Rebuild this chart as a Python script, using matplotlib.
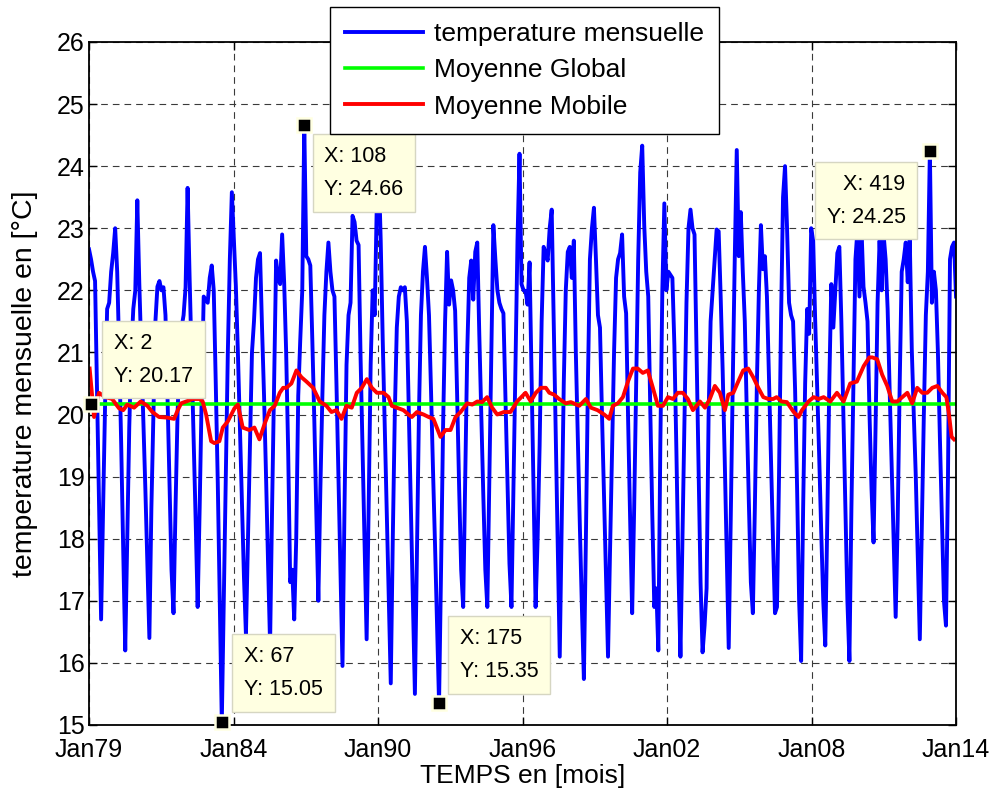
"""
Temperature mensuelle 1979-2014 avec moyenne globale et moyenne mobile
"""

import numpy as np
import matplotlib
matplotlib.use("Agg")
import matplotlib.pyplot as plt

# monthly temperature, one row per year (Jan..Dec), 1979 -> 2014
TEMP_ROWS = [
    [22.66, 22.50, 22.30, 22.15, 20.30, 18.50, 16.70, 18.50, 20.20, 21.70, 21.80, 22.30],
    [22.60, 23.00, 22.30, 21.00, 19.50, 17.80, 16.20, 18.00, 19.80, 21.00, 21.70, 22.00],
    [23.45, 22.10, 21.00, 19.90, 18.80, 17.60, 16.40, 18.50, 20.00, 21.50, 22.06, 22.15],
    [22.00, 22.05, 21.60, 20.30, 18.90, 17.50, 16.80, 18.50, 20.00, 21.00, 21.40, 21.60],
    [22.05, 23.65, 22.20, 20.90, 19.60, 18.30, 16.90, 18.50, 20.30, 21.90, 21.85, 21.80],
    [22.20, 22.40, 22.00, 20.50, 18.90, 17.00, 15.05, 17.00, 19.00, 21.00, 22.50, 23.58],
    [22.80, 22.06, 21.00, 19.80, 18.60, 17.40, 16.45, 18.00, 19.50, 21.00, 21.50, 22.20],
    [22.50, 22.60, 21.40, 20.30, 19.00, 17.60, 16.30, 18.50, 20.50, 22.48, 22.20, 22.10],
    [22.90, 22.13, 21.00, 19.40, 17.30, 17.50, 16.70, 18.00, 20.30, 21.20, 22.00, 24.66],
    [22.55, 22.50, 22.40, 21.20, 19.90, 18.40, 17.00, 18.80, 20.30, 21.60, 22.30, 22.77],
    [22.30, 22.00, 21.90, 20.50, 19.00, 17.50, 15.95, 18.50, 20.80, 21.60, 21.80, 23.20],
    [23.10, 22.80, 22.73, 20.90, 19.40, 17.90, 16.38, 18.50, 20.80, 22.00, 21.60, 23.30],
    [24.00, 22.80, 21.20, 19.80, 18.40, 17.00, 15.67, 18.00, 20.00, 21.40, 21.90, 22.05],
    [22.00, 22.05, 21.50, 20.00, 18.50, 17.00, 15.50, 17.80, 20.00, 21.60, 22.30, 22.70],
    [22.20, 21.60, 20.40, 19.10, 17.90, 16.60, 15.35, 17.50, 19.80, 21.50, 22.62, 21.77],
    [22.16, 22.00, 21.67, 20.30, 18.80, 17.50, 16.90, 19.00, 21.00, 22.20, 22.48, 21.85],
    [22.62, 22.77, 21.30, 20.00, 18.70, 17.50, 16.90, 19.00, 21.00, 23.05, 22.50, 22.00],
    [21.80, 21.70, 21.63, 20.30, 19.00, 17.60, 16.90, 18.80, 20.80, 22.80, 24.20, 22.10],
    [22.00, 21.99, 21.77, 22.45, 20.60, 18.70, 16.90, 18.00, 19.50, 21.50, 22.70, 22.60],
    [22.48, 23.00, 23.30, 21.50, 19.70, 17.90, 16.10, 18.30, 20.50, 22.00, 22.62, 22.70],
    [22.20, 22.80, 21.00, 19.60, 18.20, 16.90, 15.74, 18.00, 20.50, 22.50, 23.00, 23.33],
    [22.50, 21.60, 21.40, 20.00, 18.70, 17.40, 16.10, 17.80, 19.40, 21.00, 22.20, 22.50],
    [22.60, 22.90, 21.90, 21.63, 19.90, 18.30, 16.80, 18.50, 20.50, 22.50, 23.90, 24.33],
    [23.05, 22.30, 21.90, 20.10, 18.40, 16.90, 17.20, 16.20, 19.50, 22.00, 23.40, 22.00],
    [22.30, 22.25, 22.20, 21.10, 19.40, 17.50, 16.10, 18.00, 20.00, 21.80, 23.00, 23.30],
    [23.00, 22.90, 21.00, 19.20, 17.30, 16.17, 16.60, 17.20, 20.00, 21.50, 22.00, 22.50],
    [22.98, 22.95, 21.90, 20.70, 19.30, 17.80, 16.24, 18.30, 20.50, 22.50, 24.26, 22.55],
    [23.26, 22.30, 21.50, 20.00, 18.60, 17.30, 16.80, 18.50, 20.50, 22.00, 23.05, 22.34],
    [22.55, 21.90, 20.60, 19.30, 18.00, 16.80, 16.90, 19.00, 21.50, 23.50, 24.00, 23.00],
    [21.80, 21.60, 21.50, 20.40, 18.80, 17.00, 16.03, 18.50, 20.50, 21.70, 21.30, 23.00],
    [22.80, 21.50, 20.40, 19.30, 18.10, 17.00, 16.28, 18.30, 20.50, 22.10, 21.40, 22.00],
    [22.60, 22.70, 21.50, 20.00, 18.50, 17.00, 16.03, 18.50, 20.50, 22.50, 22.98, 21.90],
    [23.00, 22.06, 21.80, 21.50, 20.00, 18.80, 17.94, 19.80, 21.80, 22.80, 22.00, 22.90],
    [22.50, 21.70, 20.40, 19.20, 18.00, 16.74, 18.30, 20.50, 22.30, 22.50, 22.77, 22.13],
    [22.84, 21.06, 20.00, 19.00, 17.70, 16.38, 18.20, 20.00, 21.60, 22.30, 24.25, 21.80],
    [22.30, 22.00, 21.00, 19.60, 18.30, 17.00, 16.60, 19.00, 22.50, 22.70, 22.77, 21.90],
]

GLOBAL_MEAN = 20.17

# moving average (month index, value)
MOBILE_IDX = [1.3, 3.5, 5.9, 9.2, 12.5, 15.9, 18, 20, 23.4, 26.7, 30, 32.5, 35.8, 39.9, 43.3,
              45.1, 46.8, 49.3, 52.6, 55.9, 57.5, 59.2, 61.7, 63.3, 65.8, 67.5, 70, 73.3, 75,
              77.4, 80.7, 83.2, 85.7,
              88.4, 90.9, 93.3, 95.8, 97.5, 99.1, 101.6, 104.1, 106.6, 109.1, 112.4, 115.7,
              119, 121.5, 124, 126.5, 129,
              131.6, 134.1, 136.6, 139.1, 141.6, 144.1, 147.4, 149.9, 151.5, 154, 157.3, 159.8,
              161.5, 164, 167.3, 169.8, 172.2,
              175.7, 178.2, 180.7, 183.2, 185.7, 189, 191.5, 194, 196.4, 198.9, 201.4, 203.9,
              207.2, 210.5, 213.8, 218,
              220.6, 223.1, 225.6, 228.1, 229.8, 232.2, 234.7, 238, 240.5, 244.7, 248, 250.5,
              253.8, 257.1, 259.6,
              261.4, 263.9, 266.4, 268.9, 271.4, 273.8, 276.3, 278.8, 281.3, 283.8, 286.3,
              288.8, 291.3, 293.7, 296.2, 298.7, 301.2,
              304.7, 307.2, 309.6, 312.1, 314.6, 317.1, 318.8, 321.3, 323.7, 326.2, 328.7,
              331.2, 333.7, 336.2, 338.7, 341.1, 342.8, 345.3,
              347.9, 351.3, 353.7, 355.4, 358.7, 361.2, 363.7, 366.2, 369.5, 372.8, 376.1,
              379.4, 382.7, 386.1, 388.9,
              390.4, 392.8, 395.3, 397.8, 400.3, 402.8, 405.3, 407.8, 410.2, 412.7, 415.2,
              417.7, 420.2, 422.7, 425.2, 427.2, 428.5, 429.8, 431]
MOBILE_VAL = [20.74, 19.96, 20.35, 20.28, 20.25, 20.10, 20.07, 20.16, 20.11, 20.21, 20.14, 20.04,
              19.96, 19.95, 19.93,
              20.07, 20.18, 20.21, 20.25, 20.25, 20.21, 20.00, 19.57, 19.54, 19.57, 19.79, 19.89,
              20.10, 20.16, 19.79, 19.75, 19.79, 19.60,
              19.86, 20.07, 20.14, 20.35, 20.43, 20.43, 20.50, 20.71, 20.60, 20.53, 20.43, 20.21,
              20.14, 20.04, 20.07, 19.93, 20.14,
              20.11, 20.35, 20.43, 20.57, 20.43, 20.35, 20.35, 20.28, 20.14, 20.11, 20.07, 20.00,
              19.96, 20.04, 20.00, 19.96, 19.93,
              19.64, 19.75, 19.75, 19.96, 20.04, 20.18, 20.16, 20.21, 20.20, 20.28, 20.11, 20.00,
              20.04, 20.04, 20.21, 20.35,
              20.21, 20.35, 20.43, 20.43, 20.35, 20.32, 20.25, 20.18, 20.20, 20.14, 20.25, 20.11,
              20.07, 20.00, 19.93,
              20.14, 20.18, 20.28, 20.53, 20.74, 20.74, 20.67, 20.71, 20.43, 20.14, 20.14, 20.28,
              20.25, 20.35, 20.35, 20.25, 20.07,
              20.21, 20.11, 20.25, 20.46, 20.35, 20.07, 20.32, 20.35, 20.53, 20.71, 20.74, 20.60,
              20.43, 20.28, 20.25, 20.25, 20.28, 20.21,
              20.20, 20.04, 19.96, 20.07, 20.21, 20.28, 20.25, 20.28, 20.21, 20.35, 20.21, 20.50,
              20.53, 20.78, 20.92,
              20.92, 20.89, 20.64, 20.46, 20.21, 20.21, 20.28, 20.35, 20.18, 20.43, 20.35, 20.35,
              20.43, 20.46, 20.35, 20.28, 20.00, 19.64, 19.60]

# data cursors shown on the figure
TIP_IDX = [2, 67, 108, 175, 419]
TIP_VAL = [20.17, 15.05, 24.66, 15.35, 24.25]

XTICK_LABELS = ["Jan79", "Jan84", "Jan90", "Jan96", "Jan02", "Jan08", "Jan14"]
YTICKS = [15, 16, 17, 18, 19, 20, 21, 22, 23, 24, 25, 26]


def add_datatips(ax):
    # (dx, dy) in points from the marker, text alignment
    offsets = [(16.5, 12.5, "left", "bottom"),
               (16.0, 15.5, "left", "bottom"),
               (14.5, -15.0, "left", "top"),
               (15.0, 15.5, "left", "bottom"),
               (-17.5, -16.5, "right", "top")]
    for (xi, yi), (dx, dy, ha, va) in zip(zip(TIP_IDX, TIP_VAL), offsets):
        ax.plot(xi, yi, "s", color="black", markersize=10, mec="#FFFFE1", mew=1.8,
                clip_on=False, zorder=6)
        ax.annotate("X: {}\nY: {:.2f}".format(xi, yi), xy=(xi, yi), xytext=(dx, dy),
                    textcoords="offset points", ha=ha, va=va, fontsize=15.5,
                    linespacing=1.75, annotation_clip=False, zorder=7,
                    bbox=dict(boxstyle="square,pad=0.55", fc="#FFFFE1", ec="#D6D6C2", lw=1.0))


def plot_temperature():
    temp = np.array(TEMP_ROWS).ravel()
    months = np.arange(1, len(temp) + 1)

    fig = plt.figure(figsize=(9.97, 7.95), dpi=100)
    ax = fig.add_axes([0.0893, 0.0881, 0.8696, 0.8591])

    l1, = ax.plot(months, temp, color="#0000FF", lw=2.8, label="temperature mensuelle")
    l2, = ax.plot(months, np.full(len(months), GLOBAL_MEAN), color="#00FF00", lw=2.6,
                  label="Moyenne Global")
    l3, = ax.plot(MOBILE_IDX, MOBILE_VAL, color="#FF0000", lw=2.8, label="Moyenne Mobile")

    ax.set_xlim(1, len(temp))
    ax.set_ylim(15, 26)
    ax.set_xticks(np.linspace(1, len(temp), len(XTICK_LABELS)))
    ax.set_xticklabels(XTICK_LABELS)
    ax.set_yticks(YTICKS)

    ax.grid(True, color="#3a3a3a", linestyle=(0, (6, 4.5)), linewidth=0.8)
    ax.tick_params(direction="in", length=6, width=1.0, top=True, right=True,
                   labelsize=18)
    ax.tick_params(axis="x", pad=9.5)
    ax.tick_params(axis="y", pad=3)
    for sp in ax.spines.values():
        sp.set_linewidth(1.3)

    ax.set_xlabel("TEMPS en [mois]", fontsize=19, labelpad=1.5)
    ax.set_ylabel("temperature mensuelle en [°C]", fontsize=20.5, labelpad=14)

    add_datatips(ax)

    leg = ax.legend(handles=[l1, l2, l3], loc="upper left",
                    bbox_to_anchor=(330 / 997, 1 - 7 / 795), bbox_transform=fig.transFigure,
                    fontsize=19, frameon=True, fancybox=False, framealpha=1,
                    edgecolor="black", handlelength=2.95, handletextpad=0.4,
                    labelspacing=0.46, borderpad=0.58, borderaxespad=0)
    leg.get_frame().set_linewidth(1.0)
    leg.set_zorder(10)

    fig.savefig("out.png", dpi=100)


if __name__ == "__main__":
    plt.rcParams["font.family"] = ["Liberation Sans", "DejaVu Sans"]
    plot_temperature()
